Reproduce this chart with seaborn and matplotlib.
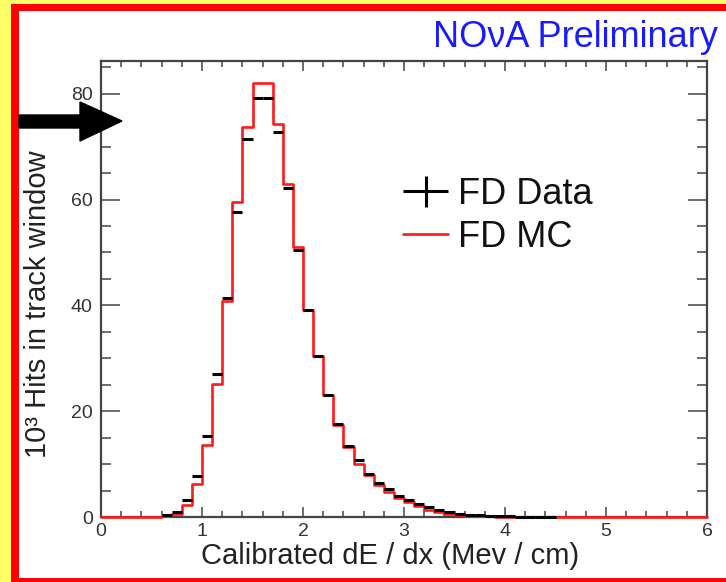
import matplotlib

matplotlib.use("Agg")

import matplotlib.pyplot as plt
import numpy as np
import pandas as pd
import seaborn as sns
from matplotlib.container import ErrorbarContainer
from matplotlib.legend_handler import HandlerErrorbar
from matplotlib.patches import Polygon, Rectangle
from matplotlib.ticker import MultipleLocator

# 60 bins of 0.1 Mev/cm from 0 to 6, in 10^3 hits
bin_width = 0.1
bin_range = (0, 6)
mc_counts = [
    0, 0, 0, 0, 0, 0, 0.2, 0.5, 2.2, 6.2,
    13.6, 25.2, 40.9, 59.5, 73.7, 82.0, 82.0, 74.3, 63.0, 51.0,
    39.2, 30.4, 23.0, 17.3, 13.2, 10.1, 7.9, 6.1, 4.7, 3.5,
    2.8, 2.0, 1.4, 0.9, 0.6, 0.4, 0.25, 0.15, 0.1, 0.07,
    0.04, 0.03, 0.02, 0.01, 0.01, 0, 0, 0, 0, 0,
    0, 0, 0, 0, 0, 0, 0, 0, 0, 0,
]
data_counts = [
    np.nan, np.nan, np.nan, np.nan, np.nan, np.nan, 0.3, 1.0, 3.3, 7.7,
    15.3, 27.0, 41.4, 57.6, 71.5, 79.2, 79.2, 72.8, 62.2, 50.5,
    39.2, 30.4, 23.1, 17.5, 13.5, 10.7, 8.2, 6.4, 5.2, 3.9,
    3.3, 2.4, 1.8, 1.3, 0.9, 0.6, 0.45, 0.3, 0.2, 0.15,
    0.1, 0.08, 0.06, 0.05, 0.04, np.nan, np.nan, np.nan, np.nan, np.nan,
    np.nan, np.nan, np.nan, np.nan, np.nan, np.nan, np.nan, np.nan, np.nan, np.nan,
]
bin_centers = bin_range[0] + bin_width * (np.arange(len(mc_counts)) + 0.5)
hist_df = pd.DataFrame({"dedx": bin_centers, "mc": mc_counts, "data": data_counts})

sns.set_theme(style="ticks")
plt.rcParams["font.family"] = ["Liberation Sans", "DejaVu Sans"]

W, H = 726, 582
fig = plt.figure(figsize=(W / 100, H / 100), dpi=100, facecolor="white")


def fx(px):
    return px / W


def fy(py):
    return 1 - py / H


def strip(x0, y0, x1, y1, color):
    # rectangle given in pixel coords from the top-left corner
    fig.add_artist(Rectangle((fx(x0), fy(y1)), fx(x1) - fx(x0), fy(y0) - fy(y1),
                             transform=fig.transFigure, facecolor=color,
                             linewidth=0, zorder=-2))


# slide frame: yellow page edge, red border on left/top/bottom only
strip(0, 0, W, 4, "#ffff66")
strip(0, 0, 11, H, "#ffff66")
strip(11, 4, W, 11, "#ff0000")
strip(11, 4, 19, H, "#ff0000")
strip(11, 578, W, H, "#ff0000")

ax = fig.add_axes([fx(101), fy(517), fx(707) - fx(101), fy(61) - fy(517)])
ax.set_facecolor("white")

sns.histplot(data=hist_df, x="dedx", weights="mc", binwidth=bin_width,
             binrange=bin_range, element="step", fill=False, color="#ff1a1a",
             linewidth=1.9, ax=ax, label="FD MC", zorder=3, clip_on=False)
data_eb = ax.errorbar(hist_df["dedx"], hist_df["data"], xerr=bin_width / 2, yerr=0,
                      fmt="none", ecolor="black", elinewidth=2.2, capsize=0,
                      label="FD Data", zorder=4)
for coll in data_eb.lines[2]:
    coll.set_clip_on(False)

ax.set_xlim(0, 6)
ax.set_ylim(0, 86.2)
ax.set_xlabel("")
ax.set_ylabel("")
ax.xaxis.set_major_locator(MultipleLocator(1))
ax.xaxis.set_minor_locator(MultipleLocator(0.2))
ax.yaxis.set_major_locator(MultipleLocator(20))
ax.yaxis.set_minor_locator(MultipleLocator(5))
for side in ["top", "right", "bottom", "left"]:
    ax.spines[side].set_visible(True)
    ax.spines[side].set_color("#444444")
    ax.spines[side].set_linewidth(1.6)
ax.tick_params(axis="both", which="both", direction="in", top=True, right=True,
               color="#444444", width=1.1, labelsize=14, labelcolor="#333333")
ax.tick_params(axis="x", which="major", length=7.5, pad=4)
ax.tick_params(axis="x", which="minor", length=4.5)
ax.tick_params(axis="y", which="major", length=14, pad=6)
ax.tick_params(axis="y", which="minor", length=7)

handles, labels = ax.get_legend_handles_labels()
order = [labels.index("FD Data"), labels.index("FD MC")]
ax.legend([handles[i] for i in order], [labels[i] for i in order],
          loc="upper left", bbox_to_anchor=(fx(403), fy(177)),
          bbox_transform=fig.transFigure, frameon=False, fontsize=26,
          handlelength=1.25, handletextpad=0.28, labelspacing=0.22,
          borderpad=0, borderaxespad=0, labelcolor="#111111",
          handler_map={ErrorbarContainer: HandlerErrorbar(xerr_size=0.62, yerr_size=0.42)})

fig.text(fx(390), fy(556), "Calibrated dE / dx (Mev / cm)", ha="center",
         va="center", fontsize=21, color="#222222")
fig.text(fx(38), fy(304), "10\u00b3 Hits in track window", ha="center",
         va="center", rotation=90, fontsize=21, color="#222222")
fig.text(fx(718), fy(47), "NO\u03bdA Preliminary", ha="right", va="baseline",
         fontsize=26, color="#1a1aff")

# black pointer arrow on the left
arrow_px = [(19, 115), (80, 115), (80, 102), (122, 121), (80, 141), (80, 128), (19, 128)]
fig.add_artist(Polygon([(fx(x), fy(y)) for x, y in arrow_px], closed=True,
                       transform=fig.transFigure, color="black", zorder=10))

fig.savefig("out.png", dpi=100, facecolor=fig.get_facecolor())
